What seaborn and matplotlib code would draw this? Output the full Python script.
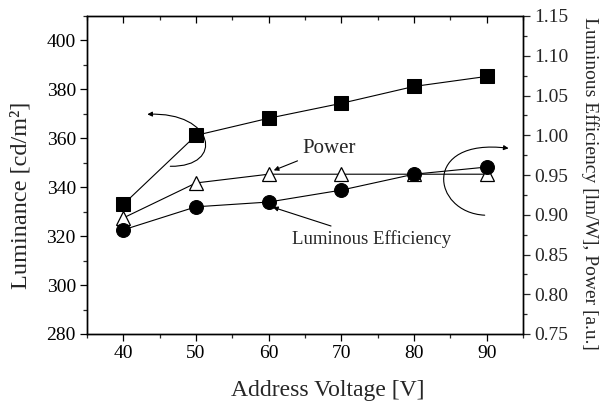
import matplotlib
matplotlib.use("Agg")
import matplotlib.pyplot as plt
import seaborn as sns
import pandas as pd
from matplotlib.ticker import MultipleLocator
from matplotlib.path import Path
from matplotlib.patches import FancyArrowPatch

voltage = [40, 50, 60, 70, 80, 90]
luminance = [333, 361.2, 368.2, 374.3, 381.2, 385.3]
power = [0.896, 0.940, 0.951, 0.951, 0.951, 0.951]
efficiency = [0.881, 0.910, 0.916, 0.931, 0.951, 0.960]

sns.set_style("ticks")
plt.rcParams['font.family'] = ['Liberation Serif', 'DejaVu Serif']
plt.rcParams['mathtext.fontset'] = 'stix'

df = pd.DataFrame({"voltage": voltage, "luminance": luminance,
                   "power": power, "efficiency": efficiency})

fig = plt.figure(figsize=(6.01, 4.03), dpi=100)
ax = fig.add_axes([87/601, 1-334/403, (523-87)/601, (334-16)/403])
ax2 = ax.twinx()

lw = 0.8
sns.lineplot(data=df, x="voltage", y="luminance", ax=ax, color="black", lw=lw,
             marker="s", markersize=9.5, markerfacecolor="black", markeredgecolor="black")
sns.lineplot(data=df, x="voltage", y="power", ax=ax2, color="black", lw=lw,
             marker="^", markersize=10.5, markerfacecolor="white", markeredgecolor="black",
             markeredgewidth=0.9)
sns.lineplot(data=df, x="voltage", y="efficiency", ax=ax2, color="black", lw=lw,
             marker="o", markersize=10, markerfacecolor="black", markeredgecolor="black")

ax.set_xlim(35, 95)
ax.set_ylim(280, 410)
ax2.set_ylim(0.75, 1.15)
ax.xaxis.set_major_locator(MultipleLocator(10))
ax.xaxis.set_minor_locator(MultipleLocator(5))
ax.yaxis.set_major_locator(MultipleLocator(20))
ax.yaxis.set_minor_locator(MultipleLocator(10))
ax2.yaxis.set_major_locator(MultipleLocator(0.05))
ax2.yaxis.set_minor_locator(MultipleLocator(0.025))
ax2.yaxis.set_major_formatter(matplotlib.ticker.FormatStrFormatter('%.2f'))

for a in (ax, ax2):
    for s in a.spines.values():
        s.set_visible(True)
        s.set_linewidth(1.0)
        s.set_color("black")

ax.tick_params(axis='both', which='major', direction='out', length=5, width=0.9,
               labelsize=14, colors='black', pad=3)
ax.tick_params(axis='both', which='minor', direction='out', length=3, width=0.9)
ax2.tick_params(axis='y', which='major', direction='out', length=5, width=0.9,
                labelsize=14, pad=3)
ax2.tick_params(axis='y', which='minor', direction='out', length=3, width=0.9)
# top ticks inward
ax.xaxis.set_tick_params(which='both', top=True, labeltop=False)
for t in ax.xaxis.get_major_ticks() + ax.xaxis.get_minor_ticks():
    t.tick2line.set_marker(matplotlib.lines.TICKDOWN)

ax.set_xlabel("Address Voltage [V]", fontsize=17)
ax.xaxis.set_label_coords(0.553, -0.146)
ax.set_ylabel("Luminance [cd/m²]", fontsize=17.5)
ax.yaxis.set_label_coords(-0.127, 0.437)
ax2.set_ylabel("Luminous Efficiency [lm/W], Power [a.u.]", fontsize=14,
               rotation=270, va='center')
ax2.yaxis.set_label_coords(1.154, 0.475)

# annotations
ax.annotate("Power", xy=(60.7, 346.9), xytext=(64.6, 355.9), xycoords='data',
            fontsize=15, va='center', ha='left',
            arrowprops=dict(arrowstyle='-|>', color='black', lw=0.8,
                            mutation_scale=7, shrinkA=1, shrinkB=0))
ax.annotate("Luminous Efficiency", xy=(60.6, 331.8), xytext=(63.2, 318.8),
            xycoords='data', fontsize=13.5, va='center', ha='left',
            arrowprops=dict(arrowstyle='-|>', color='black', lw=0.8,
                            mutation_scale=7, shrinkA=2, shrinkB=0))

codes = [Path.MOVETO, Path.CURVE4, Path.CURVE4, Path.CURVE4]
arc1 = Path([(46.46, 348.57), (54.0, 348.2), (52.6, 371.0), (43.30, 369.80)], codes)
arc2 = Path([(89.73, 328.57), (82.4, 329.6), (81.0, 360.4), (93.02, 355.92)], codes)
for p in (arc1, arc2):
    ax.add_patch(FancyArrowPatch(path=p, arrowstyle='-|>', mutation_scale=7,
                                 color='black', lw=0.8, transform=ax.transData))

fig.savefig("out.png", dpi=100)
